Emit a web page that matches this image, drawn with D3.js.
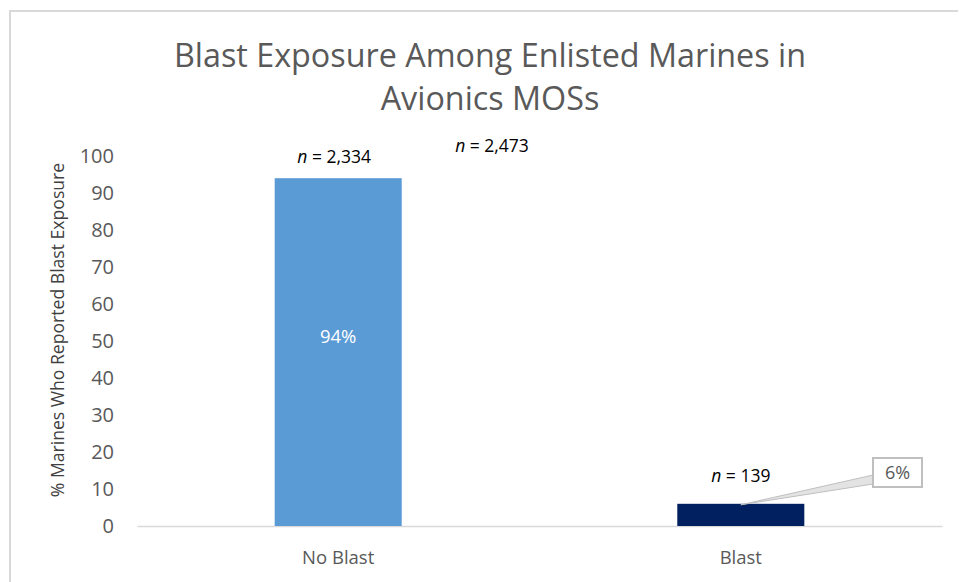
<!DOCTYPE html>
<html>
<head>
<meta charset="utf-8">
<script src="https://cdn.jsdelivr.net/npm/d3@7"></script>
<style>
  html, body { margin: 0; padding: 0; background: #fff; }
  svg { display: block; font-family: "Open Sans", sans-serif; }
</style>
</head>
<body>
<svg id="chart" width="959" height="582"></svg>
<script>
// Survey groups and share of respondents in each (percent)
const categories = ["No Blast", "Blast"];
const percentages = [94, 6];
const groupCounts = [2334, 139];
const totalCount = 2473;
const yTicks = [0, 10, 20, 30, 40, 50, 60, 70, 80, 90, 100];
const barColors = ["#5B9BD5", "#002060"];

const FONT = "'Open Sans', sans-serif";
const svg = d3.select("#chart");
const fmt = d3.format(",");

// Frame around the chart area
svg.append("path")
  .attr("d", "M10,582 V11 H958")
  .attr("fill", "none")
  .attr("stroke", "#d9d9d9")
  .attr("stroke-width", 2);

// Title
const title = svg.append("text")
  .attr("text-anchor", "middle")
  .attr("fill", "#595959")
  .attr("font-size", 32.3);
title.append("tspan").attr("x", 490).attr("y", 67).text("Blast Exposure Among Enlisted Marines in");
title.append("tspan").attr("x", 490).attr("y", 110).text("Avionics MOSs");

const x = d3.scaleBand()
  .domain(categories)
  .range([137, 942])
  .paddingInner(0.6845)
  .paddingOuter(0.342);

const y = d3.scaleLinear().domain([0, 100]).range([526, 156]);

// Y axis (labels only)
const yAxis = d3.axisLeft(y).tickValues(yTicks).tickSize(0).tickPadding(0);
const gy = svg.append("g").attr("transform", "translate(114,0)").call(yAxis);
gy.select(".domain").remove();
gy.selectAll("text")
  .attr("fill", "#595959")
  .attr("font-size", 20)
  .attr("font-family", FONT);

// X axis baseline and category labels
const xAxis = d3.axisBottom(x).tickSize(0).tickPadding(25);
const gx = svg.append("g").attr("transform", "translate(0,526)").call(xAxis);
gx.select(".domain").attr("stroke", "#d9d9d9").attr("stroke-width", 1.3);
gx.selectAll("text")
  .attr("fill", "#595959")
  .attr("font-size", 18.5)
  .attr("font-family", FONT);

// Y axis title
svg.append("text")
  .attr("transform", "translate(64,330) rotate(-90)")
  .attr("text-anchor", "middle")
  .attr("fill", "#404040")
  .attr("font-size", 17.6)
  .text("% Marines Who Reported Blast Exposure");

// Bars
svg.append("g").selectAll("rect")
  .data(categories)
  .join("rect")
  .attr("x", d => x(d))
  .attr("width", x.bandwidth())
  .attr("y", (d, i) => y(percentages[i]))
  .attr("height", (d, i) => y(0) - y(percentages[i]))
  .attr("fill", (d, i) => barColors[i]);

// Group size labels above bars
const nLabel = (sel, cx, cy, count) => {
  const t = sel.append("text")
    .attr("x", cx).attr("y", cy)
    .attr("text-anchor", "middle")
    .attr("fill", "#000")
    .attr("font-size", 17.5);
  t.append("tspan").attr("font-style", "italic").text("n");
  t.append("tspan").text(" = " + fmt(count));
};
const labelShift = [[-4, 15], [0, 22]];
categories.forEach((c, i) => {
  nLabel(svg, x(c) + x.bandwidth() / 2 + labelShift[i][0],
         y(percentages[i]) - labelShift[i][1], groupCounts[i]);
});
// Overall sample size
nLabel(svg, 492, 152, totalCount);

// Value label inside the tall bar
svg.append("text")
  .attr("x", x(categories[0]) + x.bandwidth() / 2)
  .attr("y", y(percentages[0] / 2) - 9)
  .attr("text-anchor", "middle")
  .attr("fill", "#fff")
  .attr("font-size", 18.5)
  .text(percentages[0] + "%");

// Callout for the short bar
const tipX = x(categories[1]) + x.bandwidth() / 2;
const tipY = y(percentages[1]) + 1;
const box = { x: 873, y: 458, w: 49, h: 29 };
svg.append("path")
  .attr("d", `M${tipX},${tipY} L${box.x},${box.y + 17} L${box.x},${box.y + 26} Z`)
  .attr("fill", "#e3e3e3")
  .attr("stroke", "#bfbfbf")
  .attr("stroke-width", 1);
svg.append("rect")
  .attr("x", box.x).attr("y", box.y)
  .attr("width", box.w).attr("height", box.h)
  .attr("fill", "#fff")
  .attr("stroke", "#bfbfbf")
  .attr("stroke-width", 2);
svg.append("text")
  .attr("x", box.x + box.w / 2)
  .attr("y", box.y + 21)
  .attr("text-anchor", "middle")
  .attr("fill", "#595959")
  .attr("font-size", 18)
  .text(percentages[1] + "%");
</script>
</body>
</html>
